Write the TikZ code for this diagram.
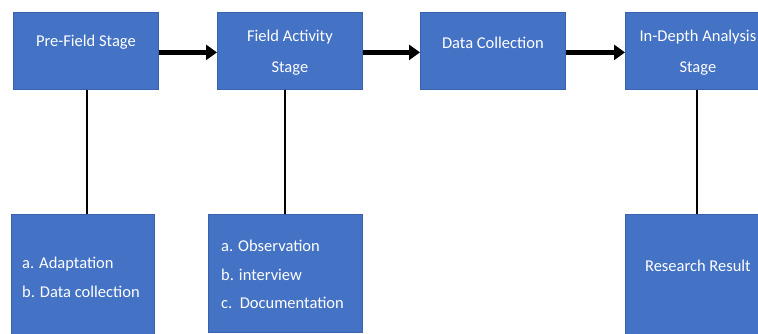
\documentclass[tikz,border=0pt]{standalone}
\usepackage{fontspec}
\setmainfont{Carlito}
\usetikzlibrary{arrows.meta}
\definecolor{boxblue}{HTML}{4472C4}
\definecolor{boxedge}{HTML}{3A62AC}
\begin{document}
\begin{tikzpicture}[x=1pt,y=-1pt,
  stagebox/.style={draw=boxedge,line width=0.8pt,fill=boxblue,inner sep=0pt,anchor=north west},
  txt/.style={text=white,font=\fontsize{16.5}{29.5}\selectfont,inner sep=0pt},
  flow/.style={line width=4.4pt,-{Triangle[length=11pt,width=15pt]}},
  link/.style={line width=1.2pt}]
\useasboundingbox (0,0) rectangle (758,334);
\clip (0,0) rectangle (758,334);
% top boxes
\node[stagebox,minimum width=145,minimum height=77] (b1) at (13,12) {};
\node[stagebox,minimum width=145,minimum height=77] (b2) at (217,12) {};
\node[stagebox,minimum width=145,minimum height=77] (b3) at (420,12) {};
\node[stagebox,minimum width=145,minimum height=77] (b4) at (625,12) {};
% bottom boxes
\node[stagebox,minimum width=143,minimum height=122] (c1) at (11,214) {};
\node[stagebox,minimum width=154,minimum height=118] (c2) at (208,214) {};
\node[stagebox,minimum width=145,minimum height=120] (c4) at (625,214) {};
% texts
\node[txt] (t1) at ([yshift=8.5]b1.center) {Pre-Field Stage};
\node[txt,align=center,font=\fontsize{16.5}{31}\selectfont] (t2) at ([yshift=-1.5]b2.center) {Field Activity\\Stage};
\node[txt] (t3) at ([yshift=8.5]b3.center) {Data Collection};
\node[txt,align=center,font=\fontsize{16.5}{31}\selectfont] (t4) at ([yshift=-1.5]b4.center) {In-Depth Analysis\\Stage};
\node[txt,align=left,anchor=west,font=\fontsize{16.5}{28.5}\selectfont] (t5) at ([xshift=11,yshift=-2]c1.west) {a. Adaptation\\b. Data collection};
\node[txt,align=left,anchor=west,font=\fontsize{16.5}{28.5}\selectfont] (t6) at ([xshift=13,yshift=-1]c2.west) {a. Observation\\b. interview\\c.\ \ Documentation};
\node[txt] (t7) at ([yshift=9]c4.center) {Research Result};
% arrows
\draw[flow] ([yshift=-1.5]b1.east) -- ([yshift=-1.5]b2.west);
\draw[flow] ([yshift=-1.5]b2.east) -- ([yshift=-1.5]b3.west);
\draw[flow] ([yshift=-1.5]b3.east) -- ([yshift=-1.5]b4.west);
% links
\draw[link] (b1.south -| 87,0) -- (c1.north -| 87,0);
\draw[link] (b2.south -| 285,0) -- (c2.north -| 285,0);
\draw[link] (b4.south -| 697,0) -- (c4.north -| 697,0);
\end{tikzpicture}
\end{document}
